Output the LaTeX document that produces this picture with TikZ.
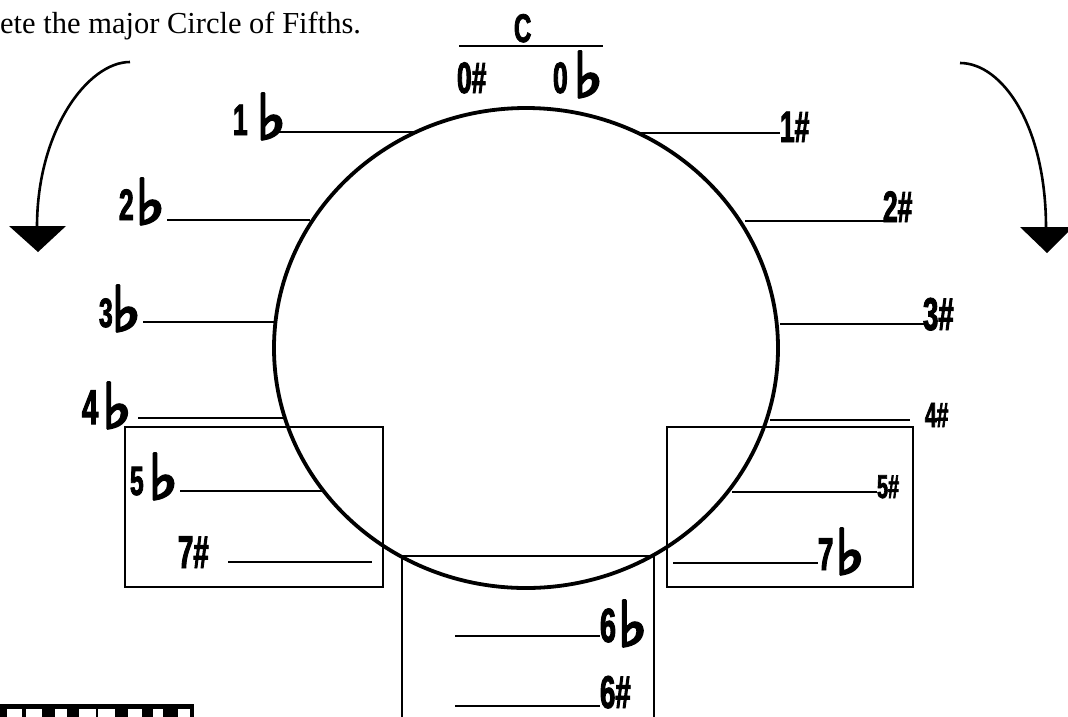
\documentclass[tikz,border=0pt]{standalone}
\usepackage{fontspec}
\setmainfont{Liberation Serif}
\newfontfamily\labfont[FakeStretch=0.6,FakeBold=2]{Liberation Sans}
\newfontfamily\flatfont[FakeBold=5]{DejaVu Sans}
\newcommand\fsz[1]{\fontsize{#1}{#1}\selectfont}
\newcommand\flt{\raisebox{-4pt}{\flatfont\fsz{62}♭}}
\begin{document}
\begin{tikzpicture}[x=1pt,y=-1pt,
  lab/.style={inner sep=0pt, outer sep=0pt, anchor=base west, font=\labfont\bfseries},
  blank/.style={line width=2.2pt},
  frame/.style={line width=1.3pt},
  turn/.style={line width=2.6pt},
  tip/.style={fill=black}]
\useasboundingbox (0,0) rectangle (1068,716);

% heading text
\node[inner sep=0pt, anchor=base west, font=\fsz{30.5}] (title) at (0,33) {ete the major Circle of Fifths.};

% curved arrows
\coordinate (la0) at (130,62);
\coordinate (la1) at (37,227);
\draw[turn] (la0) .. controls (88,62) and (37,130) .. (la1);
\fill[tip] (9,226) -- (66,226) -- (38,252) -- cycle;
\coordinate (ra0) at (960,63);
\coordinate (ra1) at (1046,228);
\draw[turn] (ra0) .. controls (1002,63) and (1046,125) .. (ra1);
\fill[tip] (1020,227) -- (1073,227) -- (1047,253) -- cycle;

% boxes
\draw[frame] (125,427) rectangle (383,587);
\draw[frame] (667,427) rectangle (913,587);
\draw[frame] (402,720) -- (402,556) -- (654,556) -- (654,720);

% C heading
\node[lab] (c) at (514,42) {\fsz{40}C};
\draw[line width=2.2pt] (459,46) -- (603,46);
\node[lab] (s0) at (457,93) {\fsz{44}0\#};
\node[lab] (f0) at (553,93) {\fsz{44}0\hspace{6pt}\flt};

% flat side labels
\node[lab] (f1) at (233,135) {\fsz{44}1\hspace{9pt}\flt};
\node[lab] (f2) at (119,220) {\fsz{44}2\hspace{2pt}\flt};
\node[lab] (f3) at (99,327) {\fsz{41}3\hspace{-1pt}\flt};
\node[lab] (f4) at (82,424) {\fsz{49}4\hspace{4pt}\flt};
\node[lab] (f5) at (130,495) {\fsz{41}5\hspace{5pt}\flt};
\node[lab] (s7) at (178,568) {\fsz{46}7\#};

% sharp side labels
\node[lab] (s1) at (780,142) {\fsz{44}1\#};
\node[lab] (s2) at (883,222) {\fsz{44}2\#};
\node[lab] (s3) at (923,330) {\fsz{46}3\#};
\node[lab] (s4) at (925,427) {\fsz{35}4\#};
\node[lab] (s5) at (877,498) {\fsz{33}5\#};
\node[lab] (f7) at (818,570) {\fsz{46}7\hspace{2pt}\flt};
\node[lab] (f6) at (600,642) {\fsz{48}6\hspace{2pt}\flt};
\node[lab] (s6) at (600,708) {\fsz{46}6\#};

% blanks
\draw[blank] (277,132) -- (417,132);
\draw[blank] (640,133) -- (780,133);
\draw[blank] (167,220) -- (310,220);
\draw[blank] (745,221) -- (884,221);
\draw[blank] (143,322) -- (276,322);
\draw[blank] (780,324) -- (925,324);
\draw[blank] (138,418) -- (283,418);
\draw[blank] (770,420) -- (910,420);
\draw[blank] (180,491) -- (325,491);
\draw[blank] (732,492) -- (877,492);
\draw[blank] (228,562) -- (372,562);
\draw[blank] (673,563) -- (818,563);
\draw[blank] (455,636) -- (600,636);
\draw[blank] (455,706) -- (600,706);

% circle of fifths
\draw[line width=3.8pt] (526,348) ellipse [x radius=252pt, y radius=240pt];

% keyboard fragment
\fill (0,704) rectangle (194,720);
\foreach \a/\b in {7/22,26/42,55/67,79/96,98/115,128/142,153/163,178/190}
  \fill[white] (\a,709) rectangle (\b,720);
\end{tikzpicture}
\end{document}
